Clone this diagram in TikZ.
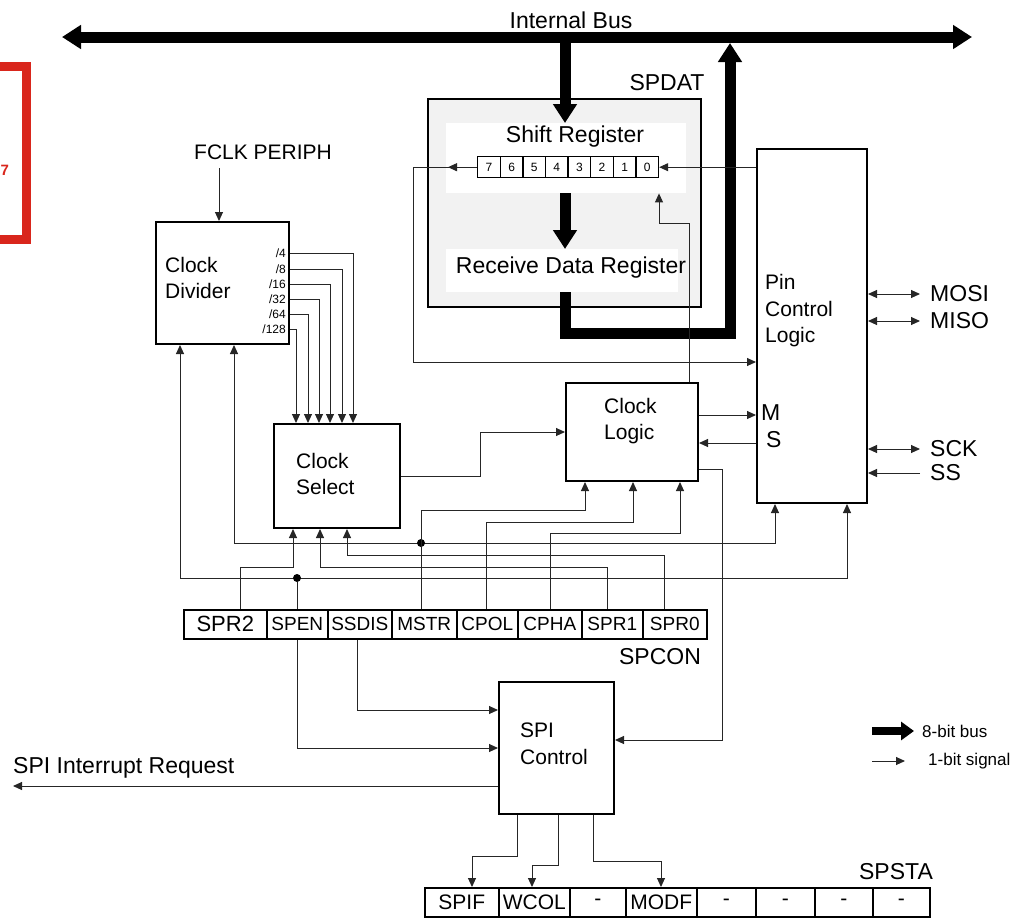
\documentclass[tikz,border=0pt]{standalone}
\usepackage{fontspec}
\setmainfont{Liberation Sans}
\usetikzlibrary{arrows.meta,calc}
\definecolor{framered}{HTML}{D9261C}
\newcommand\fntbig{\fontsize{23}{27}\selectfont}
\newcommand\fntblk{\fontsize{21}{26.5}\selectfont}
\newcommand\fntbit{\fontsize{12}{14}\selectfont}
\newcommand\fntleg{\fontsize{17}{20}\selectfont}
\tikzset{
	blk/.style={draw, line width=2pt, inner sep=0pt, anchor=north west},
	txt/.style={inner sep=0pt, font=\fntblk, align=left, anchor=west},
	lab/.style={inner sep=0pt, font=\fntbig},
	wire/.style={draw=black!85, line width=1pt},
	sig/.style={wire, -{Triangle[width=8pt,length=9pt]}},
	sigs/.style={wire, {Triangle[width=8pt,length=9pt]}-{Triangle[width=8pt,length=9pt]}},
	bus/.style={line width=11pt, -{Triangle[width=23pt,length=19pt]}},
	cell/.style={draw, line width=1.6pt, inner sep=0pt, anchor=north west, minimum height=29pt},
	dot/.style={circle, fill, inner sep=0pt, minimum size=8pt},
}

\begin{document}
\begin{tikzpicture}[x=1pt, y=-1pt]
			%%%%% START %%%%%
			\useasboundingbox (0,0) rectangle (1031,919);
			
			\draw[framered, line width=9pt] (-20,66.5) rectangle (26.5,239.5);
			\node[text=framered, font=\bfseries\fontsize{15}{18}\selectfont, inner sep=0pt, anchor=west] (pagenum) at (0.5,170) {7};
			
			% internal bus
			\coordinate (busL) at (62,37);
			\coordinate (busR) at (972,37);
			\draw[bus, {Triangle[width=23pt,length=19pt]}-{Triangle[width=23pt,length=19pt]}] (busL) -- (busR);
			\node[lab] (ibus) at (571,20) {Internal Bus};
			
			% SPDAT
			\node[blk, fill=black!5, minimum width=273pt, minimum height=208pt] (spdat) at (427,98) {};
			\node[anchor=north west, fill=white, inner sep=0pt, minimum width=240pt, minimum height=70pt] (srpanel) at (446,123) {};
			\node[anchor=north west, fill=white, inner sep=0pt, minimum width=232pt, minimum height=43pt] (rdrpanel) at (446,249) {};
			\node[lab] (spdatlab) at (667,83) {SPDAT};
			\node[lab] (srlab) at (575,137) {Shift Register};
			\node[lab] (rdrlab) at (571,268) {Receive Data Register};
			\foreach \i in {0,...,7}
				\node[cell, line width=1.4pt, minimum width=22.6pt, minimum height=21pt, font=\fntbit] (sr\i) at ({477+(7-\i)*22.6},156) {\i};
			
			% blocks
			\node[blk, minimum width=133pt, minimum height=122pt] (cdiv) at (155,221) {};
			\node[txt] (cdivlab) at (165,278) {Clock\\Divider};
			\node[blk, minimum width=126pt, minimum height=104pt] (csel) at (273,423) {};
			\node[txt] (csellab) at (296,474) {Clock\\Select};
			\node[blk, minimum width=132pt, minimum height=98pt] (clogic) at (565,382) {};
			\node[txt] (clogiclab) at (604,421) {Clock\\Logic};
			\node[blk, minimum width=110pt, minimum height=354pt] (pcl) at (756,148) {};
			\node[txt] (pcllab) at (765,311) {Pin\\Control\\Logic};
			\node[blk, minimum width=115pt, minimum height=132pt] (spictl) at (498,681) {};
			\node[txt] (spictllab) at (520,744) {SPI\\Control};
			
			% SPCON / SPSTA
			\foreach \nm/\xa/\xb/\fs/\t in {spr2/183/266/22/SPR2, spen/266/327/19/SPEN, ssdis/327/391/19/SSDIS, mstr/391/456/19/MSTR, cpol/456/517/19/CPOL, cpha/517/581/19/CPHA, spr1/581/642/19/SPR1, spr0/642/706/19/SPR0}
				\node[cell, minimum width={\xb-\xa}, font=\fontsize{\fs}{\fs}\selectfont] (\nm) at (\xa,609) {\t};
			\node[lab] (spconlab) at (660,657) {SPCON};
			\foreach \nm/\xa/\xb/\t in {spif/424/498/SPIF, wcol/498/569/WCOL, sta5/569/625/-, modf/625/696/MODF, sta3/696/755/-, sta2/755/814/-, sta1/814/872/-, sta0/872/929/-}
				\node[cell, minimum width={\xb-\xa}, font=\fontsize{21}{21}\selectfont] (\nm) at (\xa,887) {\t};
			\node[lab] (spstalab) at (896,872) {SPSTA};
			
			% data path
			\draw[bus] (busL -| 565,0) -- (srpanel.north -| 565,0);
			\draw[bus] (srpanel.south -| 565,0) -- (rdrpanel.north -| 565,0);
			\draw[bus] (rdrpanel.south -| 565,0) |- (730,333) -- (730,43);
			
			% clock divider
			\node[txt] (fclk) at (194,152) {FCLK PERIPH};
			\coordinate (fclkin) at (219,168);
			\draw[sig] (fclkin) -- (cdiv.north -| fclkin);
			\foreach \y/\x/\t in {253/353/4, 269/342/8, 284/330/16, 299/319/32, 314/308/64, 329/296/128} {
				\node[inner sep=0pt, font=\fntbit, anchor=east] (r\t) at (286,\y) {/\t};
				\draw[sig] (cdiv.east |- 0,\y) -| (csel.north -| \x,0);
			}
			\draw[sig] (csel.east) -- ++(79,0) |- (clogic.west);
			
			% shift register
			\draw[sig] (sr7.west) -- ++(-29,0);
			\draw[sig] (sr7.west) -- ++(-64,0) |- (pcl.west |- 0,362);
			\draw[sig] (pcl.west |- sr0.east) -- (sr0.east);
			\draw[sig] (clogic.north -| 689,0) |- (659,223) -- (srpanel.south -| 659,0);
			
			% pins
			\node[lab, anchor=west] (mlab) at (761,413) {M};
			\node[lab, anchor=west] (slab) at (766,440) {S};
			\draw[sig] (clogic.east |- 0,415) -- (pcl.west |- 0,415);
			\draw[sig] (pcl.west |- 0,443) -- (clogic.east |- 0,443);
			\node[lab, anchor=west] (mosi) at (930,294) {MOSI};
			\node[lab, anchor=west] (miso) at (930,321) {MISO};
			\node[lab, anchor=west] (sck) at (930,449) {SCK};
			\node[lab, anchor=west] (ss) at (930,473) {SS};
			\draw[sigs] (pcl.east |- mosi.west) -- ([xshift=-10pt]mosi.west);
			\draw[sigs] (pcl.east |- miso.west) -- ([xshift=-10pt]miso.west);
			\draw[sigs] (pcl.east |- sck.west) -- ([xshift=-10pt]sck.west);
			\draw[sig] ([xshift=-10pt]ss.west) -- (pcl.east |- ss.west);
			
			% control bits
			\draw[sigs] (cdiv.south -| 234,0) |- (775,543) -- (pcl.south -| 775,0);
			\draw[sigs] (cdiv.south -| 180,0) |- (847,578) -- (pcl.south -| 847,0);
			\node[dot] (jmstr) at (421,543) {};
			\node[dot] (jspen) at (297,578) {};
			\draw[sig] (mstr.north -| jmstr) |- (585,510) -- (clogic.south -| 585,0);
			\draw[sig] (cpol.north -| 486,0) |- (633,522) -- (clogic.south -| 633,0);
			\draw[sig] (cpha.north -| 550,0) |- (680,533) -- (clogic.south -| 680,0);
			\draw[sig] (spr1.north -| 607,0) |- (320,567) -- (csel.south -| 320,0);
			\draw[sig] (spr0.north -| 664,0) |- (347,555) -- (csel.south -| 347,0);
			\draw[sig] (spr2.north -| 240,0) |- (293,567) -- (csel.south -| 293,0);
			\draw[wire] (spen.north -| jspen) -- (jspen);
			\draw[sig] (spen.south -| jspen) |- (spictl.west |- 0,748);
			\draw[sig] (ssdis.south -| 357,0) |- (spictl.west |- 0,710);
			\draw[sig] (clogic.east |- 0,469) -| (722,740) -- (spictl.east |- 0,740);
			
			% spi control
			\node[lab, anchor=west] (irq) at (13,768) {SPI Interrupt Request};
			\draw[sig] (spictl.west |- 0,786) -- (irq.west |- 0,786);
			\draw[sig] (spictl.south -| 517,0) |- (472,856) -- (spif.north -| 472,0);
			\draw[sig] (spictl.south -| 558,0) |- (532,865) -- (wcol.north -| 532,0);
			\draw[sig] (spictl.south -| 593,0) |- (661,861) -- (modf.north -| 661,0);
			
			% legend
			\node[inner sep=0pt, font=\fntleg, anchor=west] (leg8) at (922,731) {8-bit bus};
			\node[inner sep=0pt, font=\fntleg, anchor=west] (leg1) at (928,761) {1-bit signal};
			\draw[line width=8pt, -{Triangle[width=18pt,length=13pt]}] ([xshift=-50pt]leg8.west) -- ([xshift=-8pt]leg8.west);
			\draw[sig] ([xshift=-56pt]leg1.west) -- ([xshift=-23pt]leg1.west);
			
			%%%%% END %%%%%
\end{tikzpicture}
\end{document}
